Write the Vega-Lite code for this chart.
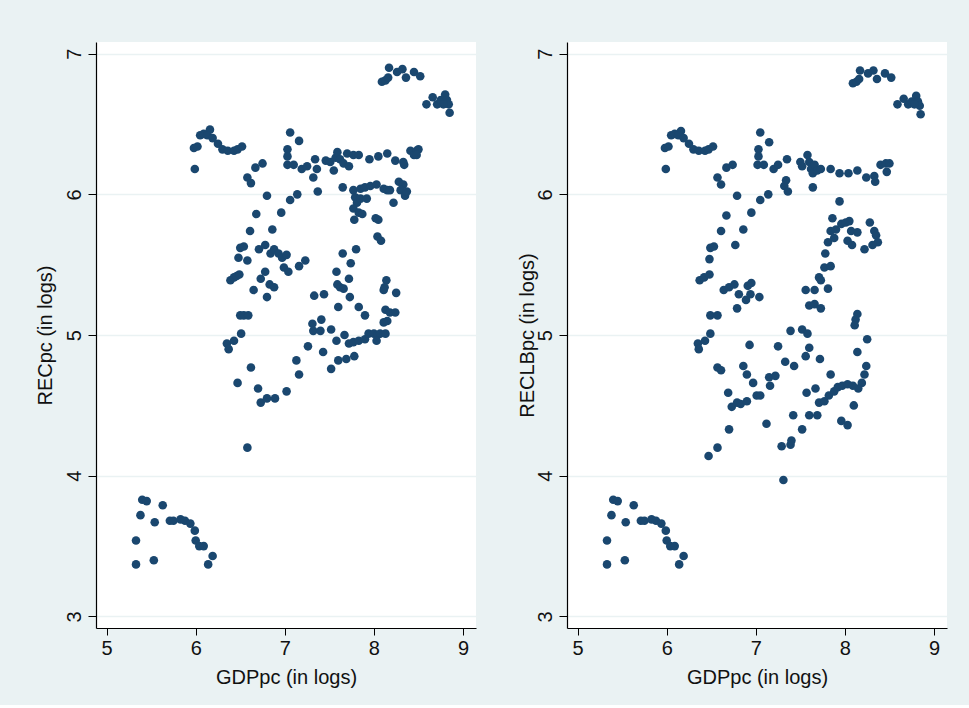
{
  "$schema": "https://vega.github.io/schema/vega-lite/v6.json",
  "background": "#EAF2F3",
  "padding": {"left": 35, "top": 42, "right": 22, "bottom": 18},
  "bounds": "flush",
  "spacing": 91,
  "datasets": {
    "rec": [
      {"gdppc": 8.09, "recpc": 6.80}, {"gdppc": 8.13, "recpc": 6.81}, {"gdppc": 8.16, "recpc": 6.83}, {"gdppc": 8.17, "recpc": 6.90},
      {"gdppc": 8.26, "recpc": 6.87}, {"gdppc": 8.32, "recpc": 6.89}, {"gdppc": 8.36, "recpc": 6.83}, {"gdppc": 8.45, "recpc": 6.87},
      {"gdppc": 8.52, "recpc": 6.84}, {"gdppc": 8.59, "recpc": 6.64}, {"gdppc": 8.66, "recpc": 6.69}, {"gdppc": 8.71, "recpc": 6.64},
      {"gdppc": 8.75, "recpc": 6.67}, {"gdppc": 8.80, "recpc": 6.71}, {"gdppc": 8.82, "recpc": 6.67}, {"gdppc": 8.84, "recpc": 6.64},
      {"gdppc": 8.85, "recpc": 6.58}, {"gdppc": 8.78, "recpc": 6.64},
      {"gdppc": 5.99, "recpc": 6.18}, {"gdppc": 5.98, "recpc": 6.33}, {"gdppc": 6.02, "recpc": 6.34}, {"gdppc": 6.05, "recpc": 6.42},
      {"gdppc": 6.09, "recpc": 6.43}, {"gdppc": 6.16, "recpc": 6.46}, {"gdppc": 6.13, "recpc": 6.42}, {"gdppc": 6.19, "recpc": 6.40},
      {"gdppc": 6.25, "recpc": 6.36}, {"gdppc": 6.30, "recpc": 6.32}, {"gdppc": 6.36, "recpc": 6.31}, {"gdppc": 6.43, "recpc": 6.31},
      {"gdppc": 6.47, "recpc": 6.32}, {"gdppc": 6.52, "recpc": 6.34},
      {"gdppc": 5.33, "recpc": 3.54}, {"gdppc": 5.33, "recpc": 3.37}, {"gdppc": 5.38, "recpc": 3.72}, {"gdppc": 5.40, "recpc": 3.83},
      {"gdppc": 5.45, "recpc": 3.82}, {"gdppc": 5.53, "recpc": 3.40}, {"gdppc": 5.54, "recpc": 3.67}, {"gdppc": 5.63, "recpc": 3.79},
      {"gdppc": 5.71, "recpc": 3.68}, {"gdppc": 5.75, "recpc": 3.68}, {"gdppc": 5.83, "recpc": 3.69}, {"gdppc": 5.88, "recpc": 3.68},
      {"gdppc": 5.94, "recpc": 3.66}, {"gdppc": 5.99, "recpc": 3.61}, {"gdppc": 6.00, "recpc": 3.54}, {"gdppc": 6.04, "recpc": 3.50},
      {"gdppc": 6.09, "recpc": 3.50}, {"gdppc": 6.14, "recpc": 3.37}, {"gdppc": 6.19, "recpc": 3.43},
      {"gdppc": 7.06, "recpc": 6.44}, {"gdppc": 7.16, "recpc": 6.38}, {"gdppc": 7.03, "recpc": 6.32}, {"gdppc": 7.03, "recpc": 6.27},
      {"gdppc": 7.03, "recpc": 6.21}, {"gdppc": 7.10, "recpc": 6.21}, {"gdppc": 7.19, "recpc": 6.18}, {"gdppc": 7.25, "recpc": 6.20},
      {"gdppc": 7.34, "recpc": 6.25}, {"gdppc": 7.36, "recpc": 6.18}, {"gdppc": 7.32, "recpc": 6.12}, {"gdppc": 7.37, "recpc": 6.02},
      {"gdppc": 6.58, "recpc": 6.12}, {"gdppc": 6.62, "recpc": 6.08}, {"gdppc": 6.67, "recpc": 6.19}, {"gdppc": 6.75, "recpc": 6.22},
      {"gdppc": 6.80, "recpc": 5.99}, {"gdppc": 7.06, "recpc": 5.96}, {"gdppc": 7.14, "recpc": 6.00}, {"gdppc": 6.68, "recpc": 5.86},
      {"gdppc": 6.96, "recpc": 5.87}, {"gdppc": 6.61, "recpc": 5.74}, {"gdppc": 6.86, "recpc": 5.75}, {"gdppc": 6.50, "recpc": 5.62},
      {"gdppc": 6.54, "recpc": 5.63}, {"gdppc": 6.48, "recpc": 5.55}, {"gdppc": 6.58, "recpc": 5.53}, {"gdppc": 6.71, "recpc": 5.61},
      {"gdppc": 6.78, "recpc": 5.64}, {"gdppc": 6.84, "recpc": 5.58}, {"gdppc": 6.88, "recpc": 5.61}, {"gdppc": 6.93, "recpc": 5.58},
      {"gdppc": 6.97, "recpc": 5.55}, {"gdppc": 7.02, "recpc": 5.57}, {"gdppc": 6.99, "recpc": 5.48}, {"gdppc": 7.04, "recpc": 5.45},
      {"gdppc": 7.16, "recpc": 5.49}, {"gdppc": 7.23, "recpc": 5.53}, {"gdppc": 6.39, "recpc": 5.39}, {"gdppc": 6.43, "recpc": 5.41},
      {"gdppc": 6.46, "recpc": 5.42}, {"gdppc": 6.49, "recpc": 5.43}, {"gdppc": 6.65, "recpc": 5.32}, {"gdppc": 6.73, "recpc": 5.40},
      {"gdppc": 6.80, "recpc": 5.27}, {"gdppc": 6.78, "recpc": 5.45}, {"gdppc": 6.83, "recpc": 5.36}, {"gdppc": 6.88, "recpc": 5.34},
      {"gdppc": 6.50, "recpc": 5.14}, {"gdppc": 6.54, "recpc": 5.14}, {"gdppc": 6.59, "recpc": 5.14}, {"gdppc": 6.51, "recpc": 5.01},
      {"gdppc": 6.35, "recpc": 4.94}, {"gdppc": 6.43, "recpc": 4.96}, {"gdppc": 6.37, "recpc": 4.90},
      {"gdppc": 7.46, "recpc": 6.24}, {"gdppc": 7.51, "recpc": 6.23}, {"gdppc": 7.55, "recpc": 6.17}, {"gdppc": 7.57, "recpc": 6.26},
      {"gdppc": 7.59, "recpc": 6.30}, {"gdppc": 7.62, "recpc": 6.25}, {"gdppc": 7.66, "recpc": 6.22}, {"gdppc": 7.70, "recpc": 6.29},
      {"gdppc": 7.72, "recpc": 6.20}, {"gdppc": 7.77, "recpc": 6.28}, {"gdppc": 7.83, "recpc": 6.28}, {"gdppc": 7.95, "recpc": 6.25},
      {"gdppc": 8.05, "recpc": 6.27}, {"gdppc": 8.15, "recpc": 6.29}, {"gdppc": 8.24, "recpc": 6.24}, {"gdppc": 8.33, "recpc": 6.23},
      {"gdppc": 8.34, "recpc": 6.21}, {"gdppc": 8.41, "recpc": 6.31}, {"gdppc": 8.45, "recpc": 6.28}, {"gdppc": 8.48, "recpc": 6.31},
      {"gdppc": 8.50, "recpc": 6.32}, {"gdppc": 8.48, "recpc": 6.28},
      {"gdppc": 7.65, "recpc": 6.05}, {"gdppc": 7.77, "recpc": 6.03}, {"gdppc": 7.85, "recpc": 6.04}, {"gdppc": 7.90, "recpc": 6.05},
      {"gdppc": 7.96, "recpc": 6.06}, {"gdppc": 8.03, "recpc": 6.07}, {"gdppc": 8.11, "recpc": 6.04}, {"gdppc": 8.15, "recpc": 6.03},
      {"gdppc": 8.18, "recpc": 6.03}, {"gdppc": 8.28, "recpc": 6.09}, {"gdppc": 8.33, "recpc": 6.07}, {"gdppc": 8.30, "recpc": 6.03},
      {"gdppc": 8.35, "recpc": 5.99}, {"gdppc": 8.37, "recpc": 6.02}, {"gdppc": 8.22, "recpc": 5.94},
      {"gdppc": 7.79, "recpc": 5.98}, {"gdppc": 7.81, "recpc": 5.94}, {"gdppc": 7.85, "recpc": 5.97}, {"gdppc": 7.92, "recpc": 5.97},
      {"gdppc": 7.77, "recpc": 5.90}, {"gdppc": 7.83, "recpc": 5.87}, {"gdppc": 7.87, "recpc": 5.86}, {"gdppc": 7.78, "recpc": 5.82},
      {"gdppc": 8.02, "recpc": 5.83}, {"gdppc": 8.05, "recpc": 5.82}, {"gdppc": 8.04, "recpc": 5.70}, {"gdppc": 8.08, "recpc": 5.67},
      {"gdppc": 7.80, "recpc": 5.61}, {"gdppc": 7.65, "recpc": 5.58}, {"gdppc": 7.74, "recpc": 5.51}, {"gdppc": 7.58, "recpc": 5.45},
      {"gdppc": 7.59, "recpc": 5.36}, {"gdppc": 7.62, "recpc": 5.34}, {"gdppc": 7.66, "recpc": 5.33}, {"gdppc": 7.72, "recpc": 5.40},
      {"gdppc": 7.73, "recpc": 5.27}, {"gdppc": 7.60, "recpc": 5.20}, {"gdppc": 8.14, "recpc": 5.39}, {"gdppc": 8.12, "recpc": 5.34},
      {"gdppc": 8.11, "recpc": 5.32}, {"gdppc": 8.25, "recpc": 5.30}, {"gdppc": 7.83, "recpc": 5.20}, {"gdppc": 7.90, "recpc": 5.14},
      {"gdppc": 7.33, "recpc": 5.28}, {"gdppc": 7.44, "recpc": 5.29}, {"gdppc": 7.31, "recpc": 5.08}, {"gdppc": 7.32, "recpc": 5.03},
      {"gdppc": 7.40, "recpc": 5.03}, {"gdppc": 7.41, "recpc": 5.11}, {"gdppc": 7.52, "recpc": 5.04},
      {"gdppc": 8.13, "recpc": 5.18}, {"gdppc": 8.18, "recpc": 5.16}, {"gdppc": 8.24, "recpc": 5.16}, {"gdppc": 8.15, "recpc": 5.10},
      {"gdppc": 8.11, "recpc": 5.09},
      {"gdppc": 7.58, "recpc": 4.96}, {"gdppc": 7.67, "recpc": 5.00}, {"gdppc": 7.72, "recpc": 4.94}, {"gdppc": 7.77, "recpc": 4.95},
      {"gdppc": 7.83, "recpc": 4.96}, {"gdppc": 7.90, "recpc": 4.97}, {"gdppc": 7.94, "recpc": 5.01}, {"gdppc": 8.00, "recpc": 5.01},
      {"gdppc": 8.04, "recpc": 5.00}, {"gdppc": 8.07, "recpc": 5.01}, {"gdppc": 8.13, "recpc": 5.01}, {"gdppc": 8.03, "recpc": 4.96},
      {"gdppc": 7.26, "recpc": 4.92},
      {"gdppc": 6.47, "recpc": 4.66}, {"gdppc": 6.62, "recpc": 4.77}, {"gdppc": 6.70, "recpc": 4.62}, {"gdppc": 6.73, "recpc": 4.52},
      {"gdppc": 6.80, "recpc": 4.55}, {"gdppc": 6.89, "recpc": 4.55}, {"gdppc": 7.02, "recpc": 4.60}, {"gdppc": 7.13, "recpc": 4.82},
      {"gdppc": 7.16, "recpc": 4.72}, {"gdppc": 7.43, "recpc": 4.88}, {"gdppc": 7.52, "recpc": 4.76}, {"gdppc": 7.60, "recpc": 4.82},
      {"gdppc": 7.69, "recpc": 4.83}, {"gdppc": 7.78, "recpc": 4.85}, {"gdppc": 6.58, "recpc": 4.20}
    ],
    "reclb": [
      {"gdppc": 8.09, "reclbpc": 6.79}, {"gdppc": 8.13, "reclbpc": 6.80}, {"gdppc": 8.16, "reclbpc": 6.82}, {"gdppc": 8.17, "reclbpc": 6.88},
      {"gdppc": 8.26, "reclbpc": 6.86}, {"gdppc": 8.32, "reclbpc": 6.88}, {"gdppc": 8.36, "reclbpc": 6.82}, {"gdppc": 8.45, "reclbpc": 6.86},
      {"gdppc": 8.52, "reclbpc": 6.83}, {"gdppc": 8.59, "reclbpc": 6.64}, {"gdppc": 8.66, "reclbpc": 6.68}, {"gdppc": 8.71, "reclbpc": 6.64},
      {"gdppc": 8.75, "reclbpc": 6.66}, {"gdppc": 8.80, "reclbpc": 6.70}, {"gdppc": 8.82, "reclbpc": 6.66}, {"gdppc": 8.84, "reclbpc": 6.63},
      {"gdppc": 8.85, "reclbpc": 6.57}, {"gdppc": 8.78, "reclbpc": 6.64},
      {"gdppc": 5.99, "reclbpc": 6.18}, {"gdppc": 5.98, "reclbpc": 6.33}, {"gdppc": 6.02, "reclbpc": 6.34}, {"gdppc": 6.05, "reclbpc": 6.42},
      {"gdppc": 6.09, "reclbpc": 6.43}, {"gdppc": 6.16, "reclbpc": 6.45}, {"gdppc": 6.13, "reclbpc": 6.42}, {"gdppc": 6.19, "reclbpc": 6.40},
      {"gdppc": 6.25, "reclbpc": 6.36}, {"gdppc": 6.30, "reclbpc": 6.32}, {"gdppc": 6.36, "reclbpc": 6.31}, {"gdppc": 6.43, "reclbpc": 6.31},
      {"gdppc": 6.47, "reclbpc": 6.32}, {"gdppc": 6.52, "reclbpc": 6.34},
      {"gdppc": 5.33, "reclbpc": 3.54}, {"gdppc": 5.33, "reclbpc": 3.37}, {"gdppc": 5.38, "reclbpc": 3.72}, {"gdppc": 5.40, "reclbpc": 3.83},
      {"gdppc": 5.45, "reclbpc": 3.82}, {"gdppc": 5.53, "reclbpc": 3.40}, {"gdppc": 5.54, "reclbpc": 3.67}, {"gdppc": 5.63, "reclbpc": 3.79},
      {"gdppc": 5.71, "reclbpc": 3.68}, {"gdppc": 5.75, "reclbpc": 3.68}, {"gdppc": 5.83, "reclbpc": 3.69}, {"gdppc": 5.88, "reclbpc": 3.68},
      {"gdppc": 5.94, "reclbpc": 3.66}, {"gdppc": 5.99, "reclbpc": 3.61}, {"gdppc": 6.00, "reclbpc": 3.54}, {"gdppc": 6.04, "reclbpc": 3.50},
      {"gdppc": 6.09, "reclbpc": 3.50}, {"gdppc": 6.14, "reclbpc": 3.37}, {"gdppc": 6.19, "reclbpc": 3.43},
      {"gdppc": 7.05, "reclbpc": 6.44}, {"gdppc": 7.15, "reclbpc": 6.37}, {"gdppc": 7.03, "reclbpc": 6.32}, {"gdppc": 7.03, "reclbpc": 6.27},
      {"gdppc": 7.02, "reclbpc": 6.21}, {"gdppc": 7.09, "reclbpc": 6.21}, {"gdppc": 7.20, "reclbpc": 6.18}, {"gdppc": 7.25, "reclbpc": 6.21},
      {"gdppc": 7.35, "reclbpc": 6.25}, {"gdppc": 7.34, "reclbpc": 6.10}, {"gdppc": 7.32, "reclbpc": 6.06}, {"gdppc": 7.36, "reclbpc": 6.02},
      {"gdppc": 7.50, "reclbpc": 6.23}, {"gdppc": 7.52, "reclbpc": 6.20}, {"gdppc": 7.58, "reclbpc": 6.28}, {"gdppc": 7.60, "reclbpc": 6.23},
      {"gdppc": 7.62, "reclbpc": 6.18}, {"gdppc": 7.64, "reclbpc": 6.15}, {"gdppc": 7.66, "reclbpc": 6.21}, {"gdppc": 7.64, "reclbpc": 6.05},
      {"gdppc": 7.69, "reclbpc": 6.17}, {"gdppc": 7.73, "reclbpc": 6.18}, {"gdppc": 7.84, "reclbpc": 6.18}, {"gdppc": 7.94, "reclbpc": 6.15},
      {"gdppc": 8.04, "reclbpc": 6.15}, {"gdppc": 8.14, "reclbpc": 6.17}, {"gdppc": 8.24, "reclbpc": 6.12}, {"gdppc": 8.33, "reclbpc": 6.13},
      {"gdppc": 8.34, "reclbpc": 6.09}, {"gdppc": 8.40, "reclbpc": 6.21}, {"gdppc": 8.46, "reclbpc": 6.22}, {"gdppc": 8.50, "reclbpc": 6.22},
      {"gdppc": 8.47, "reclbpc": 6.16},
      {"gdppc": 6.57, "reclbpc": 6.12}, {"gdppc": 6.61, "reclbpc": 6.07}, {"gdppc": 6.67, "reclbpc": 6.19}, {"gdppc": 6.74, "reclbpc": 6.21},
      {"gdppc": 6.79, "reclbpc": 5.99}, {"gdppc": 7.05, "reclbpc": 5.96}, {"gdppc": 7.14, "reclbpc": 6.00}, {"gdppc": 6.67, "reclbpc": 5.85},
      {"gdppc": 6.95, "reclbpc": 5.87}, {"gdppc": 6.61, "reclbpc": 5.74}, {"gdppc": 6.86, "reclbpc": 5.75}, {"gdppc": 6.77, "reclbpc": 5.64},
      {"gdppc": 6.49, "reclbpc": 5.62}, {"gdppc": 6.53, "reclbpc": 5.63}, {"gdppc": 6.48, "reclbpc": 5.54},
      {"gdppc": 6.37, "reclbpc": 5.39}, {"gdppc": 6.42, "reclbpc": 5.41}, {"gdppc": 6.48, "reclbpc": 5.43},
      {"gdppc": 6.64, "reclbpc": 5.32}, {"gdppc": 6.70, "reclbpc": 5.34}, {"gdppc": 6.76, "reclbpc": 5.36}, {"gdppc": 6.81, "reclbpc": 5.29},
      {"gdppc": 6.89, "reclbpc": 5.25}, {"gdppc": 6.91, "reclbpc": 5.35}, {"gdppc": 6.95, "reclbpc": 5.37}, {"gdppc": 6.94, "reclbpc": 5.29},
      {"gdppc": 7.04, "reclbpc": 5.27}, {"gdppc": 6.79, "reclbpc": 5.19},
      {"gdppc": 6.49, "reclbpc": 5.14}, {"gdppc": 6.57, "reclbpc": 5.14}, {"gdppc": 6.49, "reclbpc": 5.01},
      {"gdppc": 6.35, "reclbpc": 4.94}, {"gdppc": 6.43, "reclbpc": 4.96}, {"gdppc": 6.36, "reclbpc": 4.90},
      {"gdppc": 7.94, "reclbpc": 5.95}, {"gdppc": 7.86, "reclbpc": 5.83}, {"gdppc": 7.81, "reclbpc": 5.66}, {"gdppc": 7.84, "reclbpc": 5.74},
      {"gdppc": 7.90, "reclbpc": 5.75}, {"gdppc": 7.96, "reclbpc": 5.79}, {"gdppc": 8.01, "reclbpc": 5.80}, {"gdppc": 8.05, "reclbpc": 5.81},
      {"gdppc": 8.07, "reclbpc": 5.74}, {"gdppc": 8.14, "reclbpc": 5.73}, {"gdppc": 7.88, "reclbpc": 5.69}, {"gdppc": 8.03, "reclbpc": 5.67},
      {"gdppc": 8.08, "reclbpc": 5.64}, {"gdppc": 8.22, "reclbpc": 5.61}, {"gdppc": 8.28, "reclbpc": 5.80}, {"gdppc": 8.33, "reclbpc": 5.74},
      {"gdppc": 8.35, "reclbpc": 5.71}, {"gdppc": 8.37, "reclbpc": 5.66}, {"gdppc": 8.31, "reclbpc": 5.64},
      {"gdppc": 7.78, "reclbpc": 5.58}, {"gdppc": 7.77, "reclbpc": 5.48}, {"gdppc": 7.84, "reclbpc": 5.49}, {"gdppc": 7.71, "reclbpc": 5.41},
      {"gdppc": 7.73, "reclbpc": 5.39}, {"gdppc": 7.81, "reclbpc": 5.33},
      {"gdppc": 7.56, "reclbpc": 5.32}, {"gdppc": 7.66, "reclbpc": 5.32}, {"gdppc": 7.60, "reclbpc": 5.21}, {"gdppc": 7.66, "reclbpc": 5.22},
      {"gdppc": 7.73, "reclbpc": 5.19},
      {"gdppc": 8.14, "reclbpc": 5.15}, {"gdppc": 8.12, "reclbpc": 5.11}, {"gdppc": 8.11, "reclbpc": 5.07}, {"gdppc": 8.25, "reclbpc": 4.97},
      {"gdppc": 8.14, "reclbpc": 4.88},
      {"gdppc": 7.39, "reclbpc": 5.03}, {"gdppc": 7.52, "reclbpc": 5.04}, {"gdppc": 7.58, "reclbpc": 5.01},
      {"gdppc": 6.93, "reclbpc": 4.93}, {"gdppc": 7.25, "reclbpc": 4.92}, {"gdppc": 7.60, "reclbpc": 4.91}, {"gdppc": 7.56, "reclbpc": 4.85},
      {"gdppc": 7.72, "reclbpc": 4.83},
      {"gdppc": 6.57, "reclbpc": 4.77}, {"gdppc": 6.61, "reclbpc": 4.75}, {"gdppc": 6.86, "reclbpc": 4.78}, {"gdppc": 6.90, "reclbpc": 4.72},
      {"gdppc": 6.97, "reclbpc": 4.66}, {"gdppc": 6.69, "reclbpc": 4.59}, {"gdppc": 6.73, "reclbpc": 4.49}, {"gdppc": 6.79, "reclbpc": 4.52},
      {"gdppc": 6.83, "reclbpc": 4.51}, {"gdppc": 6.90, "reclbpc": 4.53}, {"gdppc": 7.01, "reclbpc": 4.57}, {"gdppc": 7.05, "reclbpc": 4.57},
      {"gdppc": 7.12, "reclbpc": 4.37}, {"gdppc": 7.16, "reclbpc": 4.64}, {"gdppc": 7.15, "reclbpc": 4.70}, {"gdppc": 7.22, "reclbpc": 4.71},
      {"gdppc": 7.33, "reclbpc": 4.81}, {"gdppc": 7.43, "reclbpc": 4.78}, {"gdppc": 7.84, "reclbpc": 4.72}, {"gdppc": 7.57, "reclbpc": 4.59},
      {"gdppc": 7.67, "reclbpc": 4.62}, {"gdppc": 8.24, "reclbpc": 4.78}, {"gdppc": 8.22, "reclbpc": 4.72}, {"gdppc": 8.19, "reclbpc": 4.66},
      {"gdppc": 8.15, "reclbpc": 4.62}, {"gdppc": 8.10, "reclbpc": 4.50}, {"gdppc": 7.96, "reclbpc": 4.39}, {"gdppc": 8.03, "reclbpc": 4.36},
      {"gdppc": 7.42, "reclbpc": 4.43}, {"gdppc": 7.60, "reclbpc": 4.43}, {"gdppc": 7.69, "reclbpc": 4.43}, {"gdppc": 7.52, "reclbpc": 4.33},
      {"gdppc": 7.71, "reclbpc": 4.52}, {"gdppc": 7.77, "reclbpc": 4.53}, {"gdppc": 7.82, "reclbpc": 4.57}, {"gdppc": 7.88, "reclbpc": 4.60},
      {"gdppc": 7.92, "reclbpc": 4.63}, {"gdppc": 7.97, "reclbpc": 4.64}, {"gdppc": 8.03, "reclbpc": 4.65}, {"gdppc": 8.09, "reclbpc": 4.64},
      {"gdppc": 6.70, "reclbpc": 4.33}, {"gdppc": 6.47, "reclbpc": 4.14}, {"gdppc": 6.57, "reclbpc": 4.20}, {"gdppc": 7.29, "reclbpc": 4.21},
      {"gdppc": 7.39, "reclbpc": 4.22}, {"gdppc": 7.40, "reclbpc": 4.25}, {"gdppc": 7.31, "reclbpc": 3.97}
    ]
  },
  "hconcat": [
    {
      "width": 380,
      "height": 586,
      "data": {"name": "rec"},
      "mark": {"type": "circle", "size": 74, "opacity": 1, "color": "#1A476F"},
      "encoding": {
        "x": {"field": "gdppc", "type": "quantitative", "title": "GDPpc (in logs)",
              "scale": {"domain": [4.881, 9.146], "nice": false, "zero": false},
              "axis": {"values": [5, 6, 7, 8, 9]}},
        "y": {"field": "recpc", "type": "quantitative", "title": "RECpc (in logs)",
              "scale": {"domain": [2.918, 7.083], "nice": false, "zero": false},
              "axis": {"values": [3, 4, 5, 6, 7], "titlePadding": 9}}
      }
    },
    {
      "width": 380,
      "height": 586,
      "data": {"name": "reclb"},
      "mark": {"type": "circle", "size": 74, "opacity": 1, "color": "#1A476F"},
      "encoding": {
        "x": {"field": "gdppc", "type": "quantitative", "title": "GDPpc (in logs)",
              "scale": {"domain": [4.881, 9.146], "nice": false, "zero": false},
              "axis": {"values": [5, 6, 7, 8, 9]}},
        "y": {"field": "reclbpc", "type": "quantitative", "title": "RECLBpc (in logs)",
              "scale": {"domain": [2.918, 7.083], "nice": false, "zero": false},
              "axis": {"values": [3, 4, 5, 6, 7], "titlePadding": -2}}
      }
    }
  ],
  "resolve": {"scale": {"x": "independent", "y": "independent"}},
  "config": {
    "font": "Liberation Sans",
    "view": {"stroke": null, "fill": "white"},
    "axis": {
      "domainColor": "#000000", "domainWidth": 1.2,
      "tickColor": "#000000", "tickWidth": 1,
      "labelColor": "#111111", "titleColor": "#111111",
      "labelFont": "Liberation Sans", "titleFont": "Liberation Sans",
      "labelFontSize": 20, "titleFontSize": 20, "titleFontWeight": "normal",
      "labelFlush": false, "labelOverlap": false,
      "gridColor": "#EAF2F3", "gridWidth": 1.5
    },
    "axisX": {"grid": false, "tickSize": 7, "labelPadding": 3, "titlePadding": 9},
    "axisY": {"grid": true, "tickSize": 8, "labelAngle": 270, "labelAlign": "center", "labelBaseline": "alphabetic", "labelPadding": 8}
  }
}
